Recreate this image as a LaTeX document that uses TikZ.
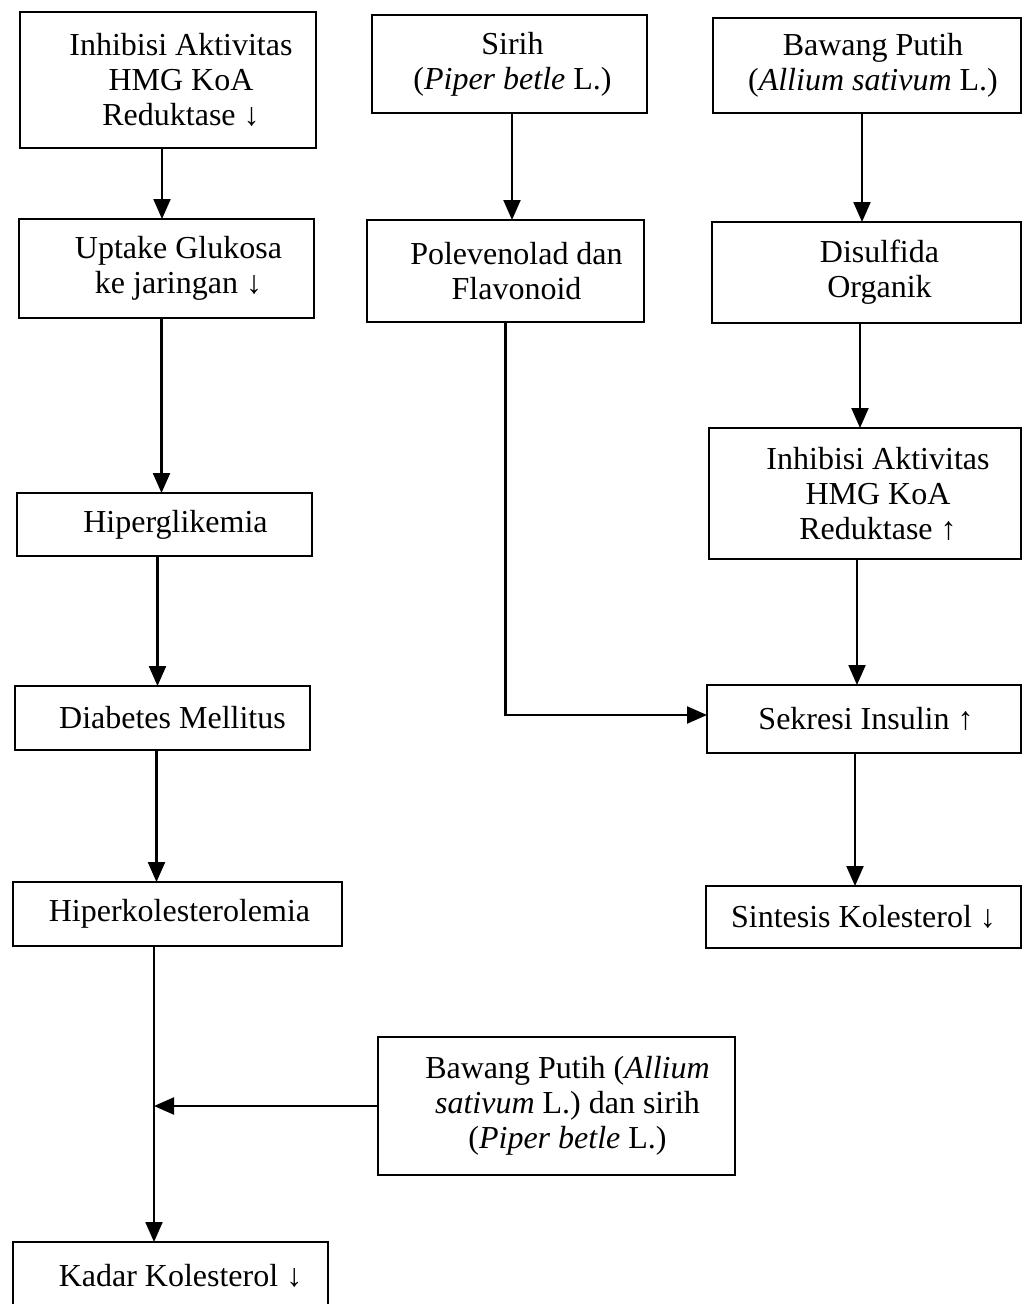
\documentclass[tikz,border=0pt]{standalone}
\usepackage{fontspec}
\setmainfont{Liberation Serif}
\usetikzlibrary{arrows.meta,calc}
\newcommand\shft[1]{\hspace*{#1pt}}
\tikzset{
  box/.style={draw, line width=2.5pt, rectangle, inner sep=0pt, outer sep=0pt, align=center,
    font=\fontsize{32}{35}\selectfont},
  arr/.style={line width=2.2pt, -{Triangle[length=20pt,width=17pt]}},
}
\begin{document}
\begin{tikzpicture}[x=1pt,y=-1pt]
\useasboundingbox (0,0) rectangle (1023,1304);
% left column
\node[box, minimum width=296pt, minimum height=136pt] (A) at (168,80) {\shft{26}Inhibisi Aktivitas\\\shft{26}HMG KoA\\\shft{26}Reduktase ↓};
\node[box, minimum width=295pt, minimum height=99pt] (B) at (166.5,268.5) {\shft{24}Uptake Glukosa\\\shft{24}ke jaringan ↓};
\node[box, minimum width=295pt, minimum height=63pt] (C) at (164.5,524.5) {\shft{22}Hiperglikemia};
\node[box, minimum width=295pt, minimum height=64pt] (D) at (162.5,718) {\shft{20}Diabetes Mellitus};
\node[box, minimum width=329pt, minimum height=64pt] (E) at (177.5,914) {\shft{4}Hiperkolesterolemia};
\node[box, minimum width=315pt, minimum height=68pt] (F) at (170.5,1276) {\shft{20}Kadar Kolesterol ↓};
% middle column
\node[box, minimum width=275pt, minimum height=98pt] (G) at (509.5,64) {\shft{6}Sirih\\\shft{6}(\textit{Piper betle} L.)};
\node[box, minimum width=277pt, minimum height=102pt] (H) at (505.5,271) {\shft{22}Polevenolad dan\\\shft{22}Flavonoid};
% right column
\node[box, minimum width=308pt, minimum height=95pt] (I) at (867,65.5) {\shft{12}Bawang Putih\\\shft{12}(\textit{Allium sativum} L.)};
\node[box, minimum width=309pt, minimum height=101pt] (J) at (866.5,272.5) {\shft{26}Disulfida\\\shft{26}Organik};
\node[box, minimum width=312pt, minimum height=131pt] (K) at (865,493.5) {\shft{26}Inhibisi Aktivitas\\\shft{26}HMG KoA\\\shft{26}Reduktase ↑};
\node[box, minimum width=314pt, minimum height=68pt] (L) at (864,719) {\shft{4}Sekresi Insulin ↑};
\node[box, minimum width=315pt, minimum height=62pt] (M) at (863.5,917) {Sintesis Kolesterol ↓};
% bottom middle
\node[box, minimum width=357pt, minimum height=138pt] (N) at (556.5,1106) {\shft{22}Bawang Putih (\textit{Allium}\\\shft{22}\textit{sativum} L.) dan sirih\\\shft{22}(\textit{Piper betle} L.)};
% connectors left
\draw[arr] ([xshift=-6pt]A.south) -- ([xshift=-6pt]A.south |- B.north);
\draw[arr] ([xshift=-5pt]B.south) -- ([xshift=-5pt]B.south |- C.north);
\draw[arr] ([xshift=-7pt]C.south) -- ([xshift=-7pt]C.south |- D.north);
\draw[arr] ([xshift=-6pt]D.south) -- ([xshift=-6pt]D.south |- E.north);
\coordinate (j) at ($(E.south)+(-23.5pt,0)$);
\draw[arr] (j) -- (j |- F.north);
\draw[arr] (N.west) -- (N.west -| j);
% connectors middle/right
\draw[arr] ([xshift=2.5pt]G.south) -- ([xshift=2.5pt]G.south |- H.north);
\draw[arr] ([xshift=-5pt]I.south) -- ([xshift=-5pt]I.south |- J.north);
\draw[arr] ([xshift=-6.5pt]J.south) -- ([xshift=-6.5pt]J.south |- K.north);
\draw[arr] ([xshift=-8pt]K.south) -- ([xshift=-8pt]K.south |- L.north);
\draw[arr] ([xshift=-9pt]L.south) -- ([xshift=-9pt]L.south |- M.north);
\draw[arr] (H.south) |- ([yshift=4pt]L.west);
\end{tikzpicture}
\end{document}
